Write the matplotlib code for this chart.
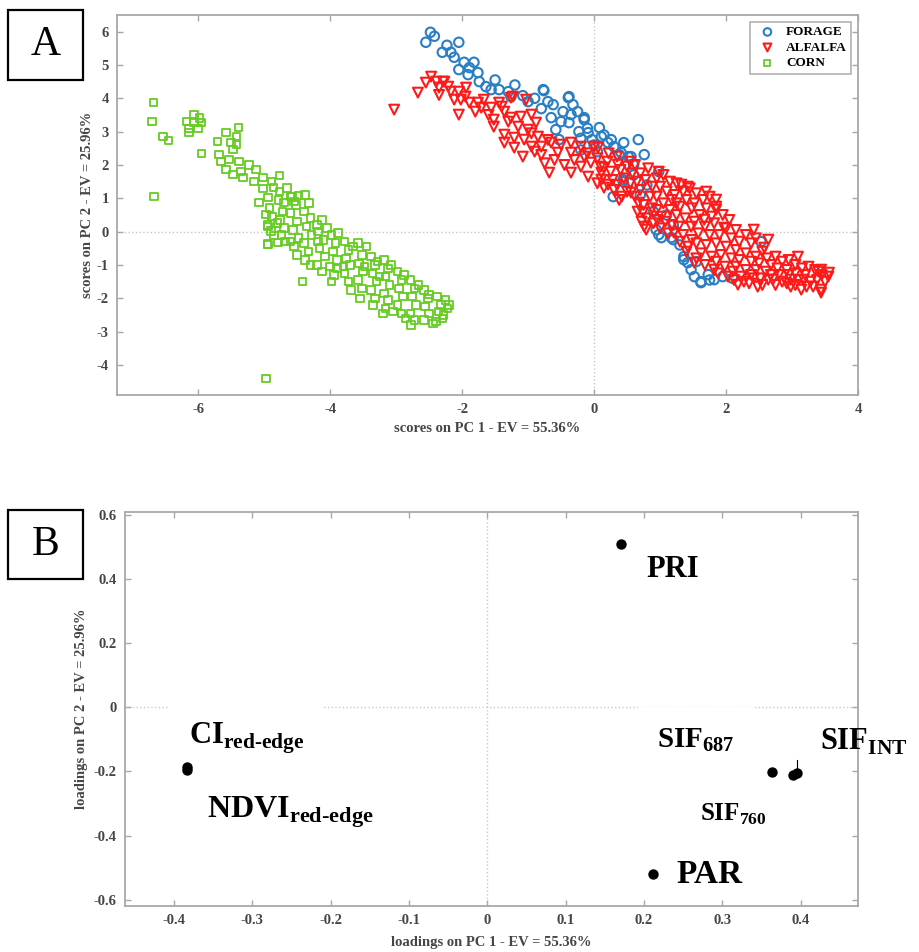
import numpy as np
import matplotlib
matplotlib.use('Agg')
import matplotlib.pyplot as plt
from matplotlib.patches import Rectangle

plt.rcParams['font.family'] = ['Liberation Serif', 'DejaVu Serif']
plt.rcParams['font.weight'] = 'bold'
plt.rcParams['axes.labelweight'] = 'bold'
plt.rcParams['axes.unicode_minus'] = False
plt.rcParams['mathtext.fontset'] = 'custom'
plt.rcParams['mathtext.bf'] = 'Liberation Serif:bold'
plt.rcParams['mathtext.rm'] = 'Liberation Serif:bold'

# ---- panel A : PCA scores ----
forage = [(-2.48,5.98),(-2.42,5.86),(-2.55,5.68),(-2.05,5.68),(-2.23,5.59),(-2.30,5.38),(-2.17,5.38),
    (-2.12,5.23),(-1.97,5.08),(-1.82,5.08),(-2.05,4.86),(-1.89,4.92),(-1.91,4.71),(-1.76,4.77),(-1.74,4.50),
    (-1.64,4.35),(-1.56,4.26),(-1.44,4.26),(-1.30,4.20),(-1.26,4.05),(-1.08,4.08),(-1.00,3.90),(-0.76,4.23),
    (-0.70,3.90),(-0.62,3.81),(-0.80,3.69),(-0.38,4.05),(-0.32,3.81),(-0.47,3.60),(-0.65,3.42),(-0.35,3.51),
    (-0.15,3.36),(-0.58,3.06),(-0.38,3.27),(-0.23,3.00),(-0.09,2.97),(0.08,3.12),(0.11,2.85),(-0.53,2.76),
    (-0.77,4.26),(-0.39,4.02),(-0.15,3.42),(0.30,2.55),(0.67,2.76),(0.76,2.31),(0.98,1.80),(0.29,1.05),
    (0.44,1.56),(-0.03,2.76),(0.21,2.67),(0.41,2.37),(0.52,2.25),(0.26,2.76),(0.45,2.67),(0.56,2.25),
    (0.38,2.31),(0.44,1.50),(0.94,0.06),(1.02,-0.18),(1.20,-0.24),(1.36,-0.75),(1.42,-0.93),(1.47,-1.14),
    (1.62,-1.50),(1.82,-1.44),(1.73,-1.29),(2.53,-0.30),(1.95,-1.35),(0.98,-0.09),(1.17,-0.18),(1.36,-0.84),
    (1.52,-1.35),(1.62,-1.53),(-0.50,3.30),(-0.25,3.60),(-0.90,4.00),(-1.20,4.40),(-1.50,4.55),(-0.20,2.80),
    (0.00,2.60),(0.15,2.90),(0.60,2.00),(0.80,1.40),(0.70,1.10),(1.10,0.50),(1.20,0.20),(1.30,-0.40),
    (1.55,-0.90),(1.75,-1.45),(2.10,-1.40),(0.90,0.60),(0.60,1.70),(-0.10,3.10),(0.05,2.40),(-0.20,2.45)]

alfalfa = [(-3.03,3.66),(-2.67,4.17),(-2.47,4.65),(-2.55,4.47),(-2.39,4.50),(-2.29,4.50),(-2.35,4.32),
    (-2.21,4.35),(-2.17,4.20),(-2.05,4.20),(-1.94,4.32),(-2.12,3.96),(-2.02,3.96),(-1.89,3.87),(-2.05,3.51),
    (-1.76,3.87),(-1.67,3.96),(-1.71,3.72),(-1.56,3.72),(-1.44,3.87),(-1.26,4.02),(-1.03,3.96),(-1.36,3.60),
    (-1.52,3.36),(-1.26,3.42),(-1.11,3.45),(-0.95,3.51),(-0.88,3.27),(-1.52,3.15),(-1.15,3.15),(-1.00,3.06),
    (-1.36,2.91),(-1.21,2.82),(-1.06,2.76),(-0.85,2.85),(-1.36,2.67),(-1.21,2.52),(-1.08,2.25),(-0.95,2.55),
    (-0.80,2.55),(-0.65,2.67),(-0.50,2.61),(-0.35,2.67),(-0.20,2.55),(-0.55,2.37),(-0.35,2.37),(-0.15,2.25),
    (0.06,2.52),(-0.68,1.77),(-0.35,1.77),(-0.20,1.95),(-0.05,2.07),(0.15,1.92),(-0.09,1.65),(0.11,1.56),
    (0.21,1.41),(-2.27,4.50),(-1.23,4.05),(-0.80,2.30),(-0.60,2.15),(-0.45,2.00),(-0.90,2.40),(-0.75,2.05),
    (-0.30,2.15),(-0.10,2.35),(-1.30,3.30),(-1.40,3.75),(-1.60,3.50),(-1.80,3.60),(-1.95,4.05),(-2.35,4.10),
    (-0.95,2.95),(-0.70,2.75),
    (0.00,2.55),(0.36,2.01),(0.98,1.80),(1.32,1.41),(1.42,1.35),(1.70,1.20),(1.85,0.96),(1.85,0.66),
    (1.67,0.36),(1.97,0.12),(2.42,0.06),(2.64,-0.24),(2.58,-0.48),(3.09,-0.75),(3.44,-1.14),(3.55,-1.35),
    (3.44,-1.83),(3.18,-1.44),(2.98,-1.65),(2.71,-1.44),(2.48,-1.65),(2.27,-1.50),(2.03,-1.35),(1.82,-1.14),
    (1.52,-0.93),(1.42,-0.45),(1.21,-0.03),(1.02,0.45),(0.76,0.15),(0.74,0.57),(0.67,0.87),(0.56,1.17),
    (0.15,1.32),(0.11,1.77),(0.79,0.06),(3.56,-1.23),(3.44,-1.74),(3.14,-1.74),(2.18,-1.59),(2.64,-1.44),
    (2.98,-1.44),
    (0.05,2.20),(0.20,2.10),(0.25,1.80),(0.10,1.95),(0.28,1.55),(0.05,1.45),(0.22,2.35),(0.30,1.25),
    (0.35,2.25),(0.40,1.85),(0.50,1.95),(0.45,1.60),(0.55,1.45),(0.35,1.40),(0.50,1.20),(0.42,1.05),
    (0.58,1.75),(0.55,2.10),(0.38,0.95),
    (0.62,2.00),(0.70,1.75),(0.82,1.90),(0.65,1.50),(0.78,1.55),(0.88,1.35),(0.70,1.25),(0.85,1.05),
    (0.62,1.05),(0.75,0.80),(0.88,0.70),(0.80,0.40),(0.66,0.60),(0.90,0.25),(0.72,0.30),
    (0.95,1.60),(1.05,1.70),(1.15,1.50),(1.00,1.35),(1.10,1.20),(0.95,1.05),(1.18,0.95),(1.05,0.85),
    (0.95,0.65),(1.15,0.65),(1.08,0.30),(1.00,0.10),(1.18,0.20),(1.12,-0.05),(0.96,0.35),
    (1.25,1.45),(1.35,1.20),(1.45,1.30),(1.22,1.10),(1.40,0.95),(1.30,0.75),(1.48,0.70),(1.25,0.50),
    (1.38,0.40),(1.47,0.15),(1.28,0.15),(1.35,-0.10),(1.48,-0.25),(1.30,-0.30),(1.40,-0.60),(1.25,0.85),
    (1.55,1.15),(1.65,0.95),(1.75,1.05),(1.52,0.85),(1.70,0.70),(1.60,0.50),(1.78,0.45),(1.52,0.30),
    (1.68,0.15),(1.58,-0.05),(1.75,-0.10),(1.55,-0.35),(1.70,-0.40),(1.62,-0.65),(1.78,-0.75),(1.55,-0.80),
    (1.68,-1.00),
    (1.85,0.75),(1.95,0.50),(2.05,0.35),(1.82,0.25),(2.00,0.10),(1.90,-0.10),(2.08,-0.20),(1.85,-0.35),
    (2.00,-0.45),(1.92,-0.70),(2.08,-0.80),(1.85,-0.90),(1.98,-1.05),(2.10,-1.20),(1.88,-1.25),
    (2.15,0.05),(2.30,-0.10),(2.20,-0.30),(2.38,-0.35),(2.15,-0.55),(2.30,-0.65),(2.20,-0.85),(2.38,-0.90),
    (2.15,-1.05),(2.30,-1.15),(2.22,-1.35),(2.38,-1.30),(2.35,-1.55),(2.12,-1.45),
    (2.45,-0.20),(2.55,-0.60),(2.45,-0.75),(2.62,-0.80),(2.50,-0.95),(2.68,-1.00),(2.45,-1.15),(2.60,-1.20),
    (2.52,-1.40),(2.68,-1.30),(2.55,-1.60),(2.42,-1.40),
    (2.75,-0.75),(2.85,-0.90),(2.95,-0.85),(2.78,-1.10),(2.92,-1.15),(2.80,-1.30),(2.95,-1.30),(2.85,-1.50),
    (2.75,-1.60),(2.92,-1.55),
    (3.05,-1.00),(3.15,-1.10),(3.25,-1.05),(3.05,-1.25),(3.20,-1.30),(3.10,-1.45),(3.28,-1.50),(3.05,-1.60),
    (3.22,-1.65),
    (3.35,-1.15),(3.45,-1.30),(3.38,-1.45),(3.50,-1.50),(3.32,-1.65),(3.40,-1.20)]

corn = [(-6.68,3.87),(-6.70,3.30),(-6.53,2.85),(-6.45,2.73),(-6.67,1.05),(-5.95,2.34),
    (-6.06,3.51),(-6.18,3.30),(-5.95,3.27),(-6.14,3.09),(-6.00,3.09),(-6.14,2.97),(-6.06,3.27),(-5.98,3.40),
    (-5.39,3.12),(-5.58,2.97),(-5.71,2.70),(-5.42,2.85),(-5.50,2.67),(-5.42,2.61),(-5.47,2.46),(-5.68,2.31),
    (-5.65,2.10),(-5.53,2.16),(-5.38,2.10),(-5.58,1.86),(-5.47,1.71),(-5.35,1.80),(-5.32,1.62),(-5.23,2.00),
    (-5.12,1.86),(-5.02,1.62),(-4.89,1.50),(-4.77,1.68),(-4.86,1.32),(-5.02,1.29),(-4.77,1.20),(-5.08,0.87),
    (-4.94,1.02),(-4.48,1.08),(-4.70,0.87),(-4.97,0.51),(-4.94,0.15),(-4.94,-0.39),(-4.79,-0.33),(-4.97,-4.41),
    (-5.15,1.50),(-4.65,1.30),(-4.60,1.05),(-4.55,0.90),
    (-4.92,0.70),(-4.88,0.45),(-4.95,0.20),(-4.90,0.02),(-4.85,-0.12),(-4.95,-0.38),
    (-4.78,0.95),(-4.72,0.60),(-4.76,0.35),(-4.70,0.10),(-4.74,-0.10),(-4.68,-0.30),(-4.80,0.25),
    (-4.58,1.05),(-4.52,0.80),(-4.60,0.55),(-4.50,0.30),(-4.56,0.05),(-4.48,-0.20),(-4.55,-0.45),(-4.50,-0.70),
    (-4.60,-0.30),
    (-4.38,1.10),(-4.32,0.85),(-4.40,0.60),(-4.30,0.40),(-4.36,0.15),(-4.28,-0.10),(-4.40,-0.35),(-4.33,-0.60),
    (-4.38,-0.85),(-4.30,-1.00),(-4.42,-1.50),
    (-4.20,0.20),(-4.12,0.35),(-4.18,0.00),(-4.10,-0.25),(-4.16,-0.50),(-4.08,-0.75),(-4.20,-1.00),(-4.12,-1.20),
    (-4.18,-0.30),(-4.05,0.10),
    (-3.98,-0.10),(-3.92,-0.35),(-3.96,-0.60),(-3.90,-0.85),(-4.00,-1.05),(-3.94,-1.30),(-3.98,-1.50),
    (-3.88,-0.05),(-3.90,-1.10),
    (-3.78,-0.30),(-3.72,-0.55),(-3.76,-0.80),(-3.70,-1.00),(-3.78,-1.25),(-3.72,-1.50),(-3.68,-1.75),
    (-3.80,-1.05),(-3.65,-0.45),
    (-3.58,-0.35),(-3.52,-0.70),(-3.56,-0.95),(-3.50,-1.20),(-3.58,-1.45),(-3.52,-1.70),(-3.55,-2.00),
    (-3.48,-1.05),(-3.45,-0.45),
    (-3.38,-0.75),(-3.32,-1.00),(-3.36,-1.25),(-3.30,-1.50),(-3.38,-1.75),(-3.32,-2.00),(-3.35,-2.20),
    (-3.28,-0.90),(-3.25,-1.35),
    (-3.18,-0.85),(-3.12,-1.10),(-3.16,-1.35),(-3.10,-1.60),(-3.18,-1.85),(-3.12,-2.05),(-3.16,-2.30),
    (-3.08,-1.00),(-3.05,-2.40),(-3.20,-2.45),
    (-2.98,-1.20),(-2.92,-1.45),(-2.96,-1.70),(-2.90,-1.95),(-2.98,-2.20),(-2.92,-2.45),(-2.88,-1.30),
    (-2.86,-2.60),
    (-2.78,-1.45),(-2.72,-1.70),(-2.76,-1.95),(-2.70,-2.20),(-2.78,-2.45),(-2.72,-2.65),(-2.77,-2.80),
    (-2.66,-1.60),
    (-2.58,-1.75),(-2.52,-2.00),(-2.56,-2.25),(-2.50,-2.45),(-2.58,-2.65),(-2.50,-1.88),(-2.44,-2.75),
    (-2.38,-1.95),(-2.32,-2.20),(-2.36,-2.40),(-2.30,-2.60),(-2.40,-2.70),(-2.25,-2.05),(-2.22,-2.30),
    (-2.28,-2.50),(-2.20,-2.20)]

xticks_a = [-6, -4, -2, 0, 2, 4]
yticks_a = [-4, -3, -2, -1, 0, 1, 2, 3, 4, 5, 6]

# ---- panel B : PCA loadings ----
load_names = ['PRI', 'PAR', 'SIF687', 'SIF760', 'SIFINT', 'CI', 'NDVI']
load_pc1 = [0.171, 0.211, 0.363, 0.390, 0.395, -0.384, -0.384]
load_pc2 = [0.509, -0.519, -0.203, -0.212, -0.205, -0.186, -0.196]

xticks_b = [-0.4, -0.3, -0.2, -0.1, 0, 0.1, 0.2, 0.3, 0.4]
xticklabels_b = ['-0.4', '-0.3', '-0.2', '-0.1', '0', '0.1', '0.2', '0.3', '0.4']
yticks_b = [-0.6, -0.4, -0.2, 0, 0.2, 0.4, 0.6]
yticklabels_b = ['-0.6', '-0.4', '-0.2', '0', '0.2', '0.4', '0.6']

fig = plt.figure(figsize=(9.2, 9.52), dpi=100)
axA = fig.add_axes([0.1272, 0.5851, 0.8054, 0.3992])
axB = fig.add_axes([0.1359, 0.0483, 0.7967, 0.4139])

def style(ax):
    for s in ax.spines.values():
        s.set_color('#a8a8a8')
        s.set_linewidth(1.3)
    ax.tick_params(direction='in', top=True, right=True, length=4, width=1,
                   color='#a8a8a8', labelcolor='#454545', labelsize=10.5, pad=6)
    ax.axhline(0, color='#c8c8c8', ls=':', lw=1, zorder=0)
    ax.axvline(0, color='#c8c8c8', ls=':', lw=1, zorder=0)

style(axA)
f = np.array(forage); a = np.array(alfalfa); c = np.array(corn)
axA.scatter(f[:, 0], f[:, 1], s=46, marker='o', facecolors='none', edgecolors='#2a7fc4',
            linewidths=1.5, label='FORAGE')
axA.scatter(a[:, 0], a[:, 1], s=50, marker='v', facecolors='none', edgecolors='#ff1a1a',
            linewidths=1.5, label='ALFALFA')
axA.scatter(c[:, 0], c[:, 1], s=30, marker='s', facecolors='none', edgecolors='#66cc22',
            linewidths=1.3, label='CORN')
axA.set_xlim(-7.23, 4.0)
axA.set_ylim(-4.9, 6.5)
axA.set_xticks(xticks_a)
axA.set_yticks(yticks_a)
axA.set_xlabel('scores on PC 1 - EV = 55.36%', fontsize=10.5, color='#454545', labelpad=4)
axA.set_ylabel('scores on PC 2 - EV = 25.96%', fontsize=10.5, color='#454545', labelpad=2)
leg = axA.legend(loc='upper right', fontsize=9.5, fancybox=False, edgecolor='#a0a0a0',
                 borderpad=0.35, handletextpad=0.4, labelspacing=0.25, borderaxespad=0.5,
                 markerscale=0.8)
leg.get_frame().set_linewidth(1.2)

style(axB)
axB.scatter(load_pc1, load_pc2, s=42, color='black', zorder=6)
axB.set_xlim(-0.4626, 0.473)
axB.set_ylim(-0.62, 0.61)
axB.set_xticks(xticks_b)
axB.set_xticklabels(xticklabels_b)
axB.set_yticks(yticks_b)
axB.set_yticklabels(yticklabels_b)
axB.set_xlabel('loadings on PC 1 - EV = 55.36%', fontsize=10.5, color='#454545', labelpad=6)
axB.set_ylabel('loadings on PC 2 - EV = 25.96%', fontsize=10.5, color='#454545', labelpad=4)

# leader line from the SIF_INT point up toward its label
i = load_names.index('SIFINT')
axB.plot([load_pc1[i], load_pc1[i]], [load_pc2[i], load_pc2[i] + 0.04], color='black', lw=0.8, zorder=5)

white = dict(facecolor='white', edgecolor='none', pad=14)

def label(x, y, txt, size, box=False):
    axB.text(x, y, txt, fontsize=size, fontweight='bold', color='black', va='baseline',
             clip_on=False, zorder=4, bbox=white if box else None)

label(0.203, 0.406, 'PRI', 22)
label(-0.381, -0.1125, '$\\mathbf{CI}_{\\mathbf{red\u2010edge}}$', 22, box=True)
label(-0.358, -0.344, '$\\mathbf{NDVI}_{\\mathbf{red\u2010edge}}$', 23)
label(0.217, -0.125, '$\\mathbf{SIF}_{\\mathbf{687}}$', 21, box=True)
label(0.424, -0.134, '$\\mathbf{SIF}_{\\mathbf{INT}}$', 22)
label(0.271, -0.353, '$\\mathbf{SIF}_{\\mathbf{760}}$', 18)
label(0.241, -0.547, 'PAR', 24)

# panel letters
for (x0, y0, w, h, letter) in [(8, 10, 75, 70, 'A'), (8, 510, 75, 69, 'B')]:
    fig.add_artist(Rectangle((x0 / 920, 1 - (y0 + h) / 952), w / 920, h / 952,
                             transform=fig.transFigure, fill=False, edgecolor='black', lw=1.6))
    fig.text((x0 + w / 2) / 920, 1 - (y0 + h / 2) / 952, letter, fontsize=30,
             fontweight='normal', ha='center', va='center')

fig.savefig('out.png', dpi=100)
